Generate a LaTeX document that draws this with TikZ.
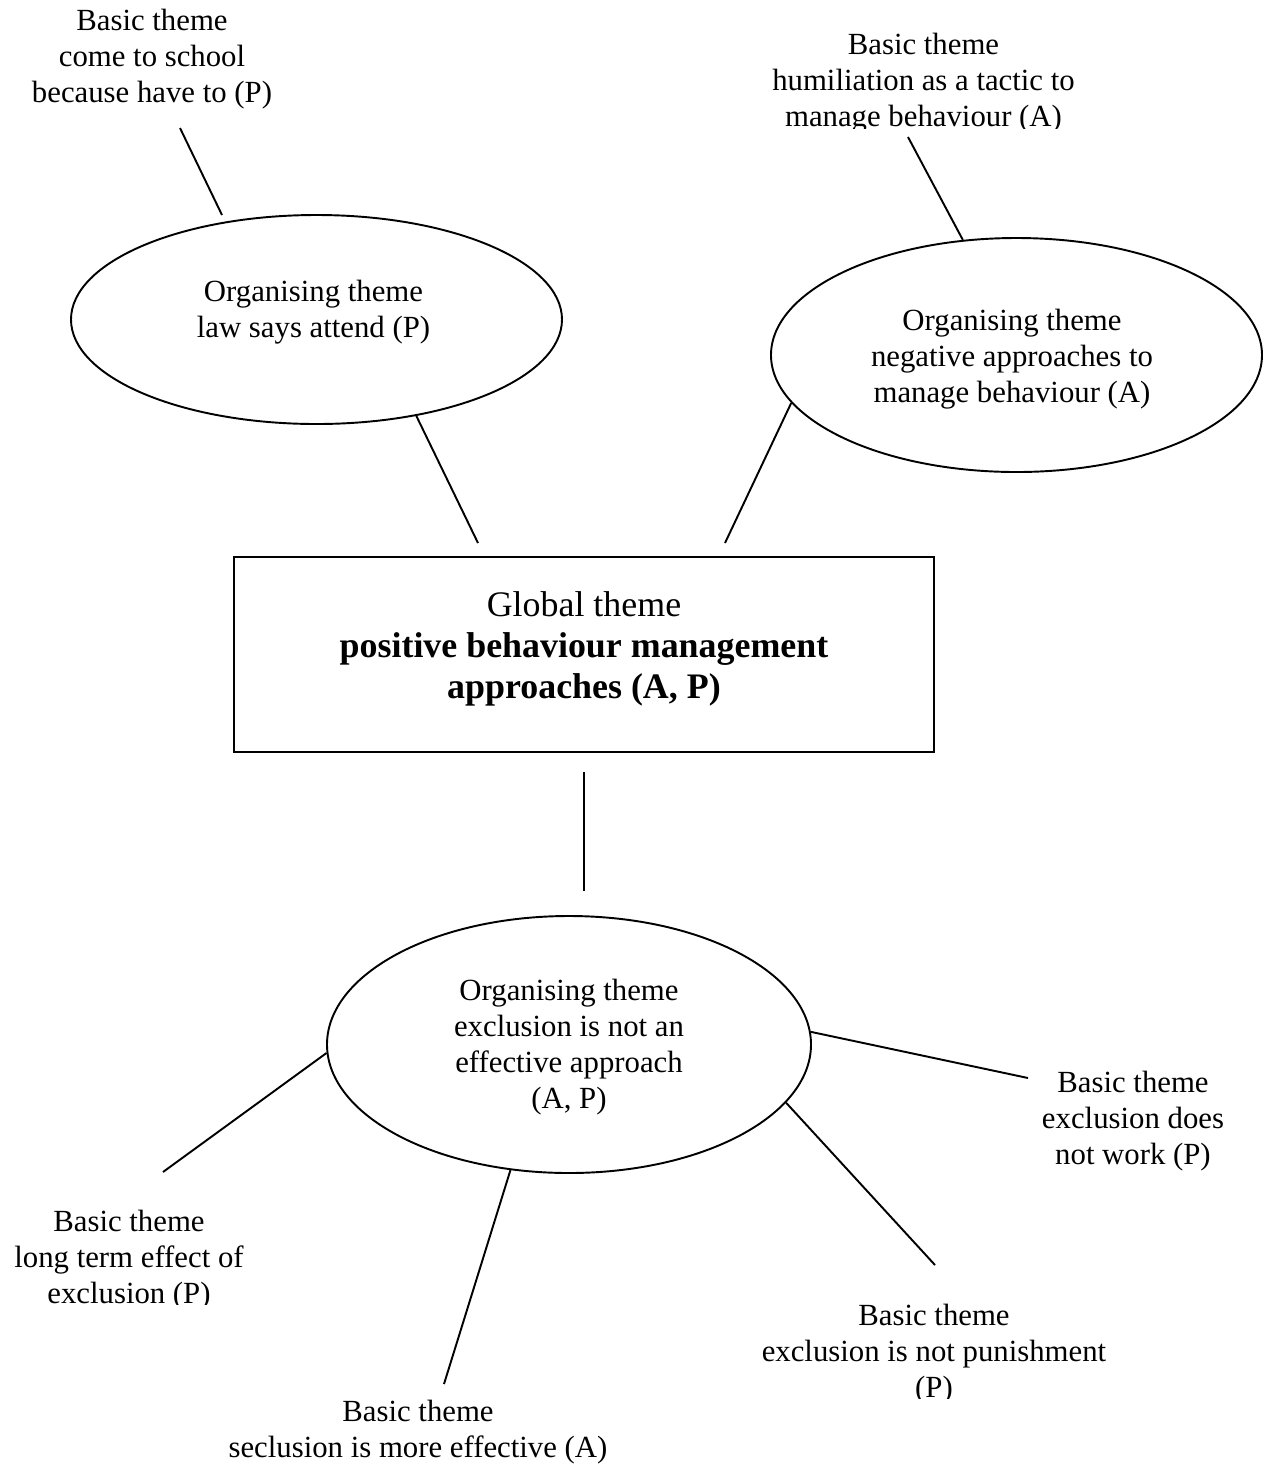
\documentclass[tikz,border=0pt]{standalone}
\usepackage{fontspec}
\setmainfont{Liberation Serif}
\usetikzlibrary{shapes.geometric}
\def\pxu{0.39pt}
\begin{document}
\begin{tikzpicture}[x=0.39pt,y=-0.39pt,
  basic/.style={align=center,inner sep=0pt,font=\fontsize{12}{14}\selectfont},
  globaltext/.style={align=center,inner sep=0pt,font=\fontsize{14}{16}\selectfont},
  organising/.style={draw,ellipse,line width=0.75pt,inner sep=0pt},
  globalbox/.style={draw,rectangle,line width=0.75pt,inner sep=0pt},
  link/.style={line width=0.75pt}]
\useasboundingbox (0,0) rectangle (1265,1464);

% global theme
\node[globalbox,minimum width={700*\pxu},minimum height={195*\pxu}] (g) at (584,654.5) {};
\node[globaltext] (gt) at (584,649) {Global theme\\\textbf{positive behaviour management}\\\textbf{approaches (A, P)}};

% organising themes
\node[organising,minimum width={491*\pxu},minimum height={209*\pxu}] (o1) at (316.5,319.5) {};
\node[basic] (o1t) at (313.5,312) {Organising theme\\law says attend (P)};

\node[organising,minimum width={491*\pxu},minimum height={234*\pxu}] (o2) at (1016.5,355) {};
\node[basic] (o2t) at (1012,359) {Organising theme\\negative approaches to\\manage behaviour (A)};

\node[organising,minimum width={484*\pxu},minimum height={257*\pxu}] (o3) at (569,1044.5) {};
\node[basic] (o3t) at (569,1047) {Organising theme\\exclusion is not an\\effective approach\\(A, P)};

% basic themes
\node[basic] (b1) at (152,59) {Basic theme\\come to school\\because have to (P)};
\begin{scope}
  \clip (700,0) rectangle (1150,128);
  \node[basic] (b2) at (923.5,83) {Basic theme\\humiliation as a tactic to\\manage behaviour (A)};
\end{scope}
\node[basic] (b3) at (1133,1121) {Basic theme\\exclusion does\\not work (P)};
\begin{scope}
  \clip (0,1180) rectangle (300,1304);
  \node[basic] (b4) at (129,1260) {Basic theme\\long term effect of\\exclusion (P)};
\end{scope}
\begin{scope}
  \clip (700,1290) rectangle (1200,1398);
  \node[basic] (b5) at (934,1354) {Basic theme\\exclusion is not punishment\\(P)};
\end{scope}
\node[basic] (b6) at (418,1432) {Basic theme\\seclusion is more effective (A)};

% free ends of the connectors
\coordinate (b1e) at (180,128);
\coordinate (o1e) at (222,215);
\coordinate (g1e) at (478,543);
\coordinate (b2e) at (908,137);
\coordinate (g2e) at (725,543);
\coordinate (g3e) at (584,772);
\coordinate (o3e) at (584,891);
\coordinate (b4e) at (163,1172);
\coordinate (b6e) at (444,1384);
\coordinate (b5e) at (935,1265);
\coordinate (b3e) at (1028,1078);

% connectors
\draw[link] (b1e) -- (o1e);
\draw[link] (o1.-44.7) -- (g1e);
\draw[link] (b2e) -- (o2.115.8);
\draw[link] (o2.192.6) -- (g2e);
\draw[link] (g3e) -- (o3e);
\draw[link] (o3.182) -- (b4e);
\draw[link] (o3.245.7) -- (b6e);
\draw[link] (o3.-15) -- (b5e);
\draw[link] (o3.3) -- (b3e);
\end{tikzpicture}
\end{document}
